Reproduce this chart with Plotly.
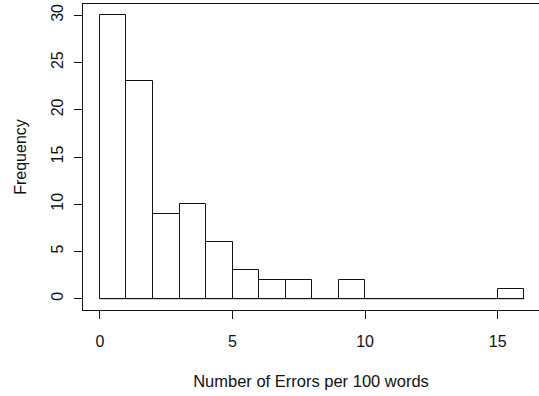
import plotly.graph_objects as go

# Histogram data: bin edges (width 1) and counts
bin_edges = list(range(0, 17))
counts = [30, 23, 9, 10, 6, 3, 2, 2, 0, 2, 0, 0, 0, 0, 0, 1]

x_ticks = [0, 5, 10, 15]
y_ticks = [0, 5, 10, 15, 20, 25, 30]

x_title = "Number of Errors per 100 words"
y_title = "Frequency"

centers = [(a + b) / 2 for a, b in zip(bin_edges[:-1], bin_edges[1:])]
widths = [b - a for a, b in zip(bin_edges[:-1], bin_edges[1:])]

FONT = "Liberation Sans, Arial, sans-serif"

fig = go.Figure()
# baseline along the bottom of all bins (zero-height bins drawn as lines in R)
fig.add_trace(go.Scatter(
    x=[bin_edges[0], bin_edges[-1]], y=[0, 0], mode="lines",
    line=dict(color="#111", width=1), hoverinfo="skip", showlegend=False,
))
fig.add_trace(go.Bar(
    x=centers, y=counts, width=widths,
    marker=dict(color="white", line=dict(color="#111", width=1)),
    showlegend=False,
))

fig.update_layout(
    width=539, height=396,
    margin=dict(l=83, r=0, t=4, b=86),
    paper_bgcolor="white", plot_bgcolor="white",
    font=dict(family=FONT, size=16, color="#111"),
    bargap=0,
)
fig.update_xaxes(
    range=[-0.64, 16.56], tickmode="array", tickvals=x_ticks,
    ticktext=[str(v) for v in x_ticks],
    showgrid=False, zeroline=False, automargin=False,
    showline=True, mirror=True, linecolor="#111", linewidth=1,
    ticks="outside", ticklen=8, tickcolor="#111", tickwidth=1,
    ticklabelstandoff=9,
    title=dict(text=x_title, font=dict(size=16.5), standoff=26),
)
fig.update_yaxes(
    range=[-1.2, 31.2], tickmode="array", tickvals=y_ticks,
    ticktext=[str(v) for v in y_ticks],
    showgrid=False, zeroline=False, automargin=False,
    showline=True, mirror=False, linecolor="#111", linewidth=1,
    ticks="outside", ticklen=8, tickcolor="#111", tickwidth=1,
    tickangle=-90, ticklabelstandoff=5,
    title=dict(text=y_title, font=dict(size=16), standoff=17),
)

fig.write_html("out.html", config={"displayModeBar": False},
               post_script="document.body.style.margin='0';document.body.style.overflow='hidden';")
